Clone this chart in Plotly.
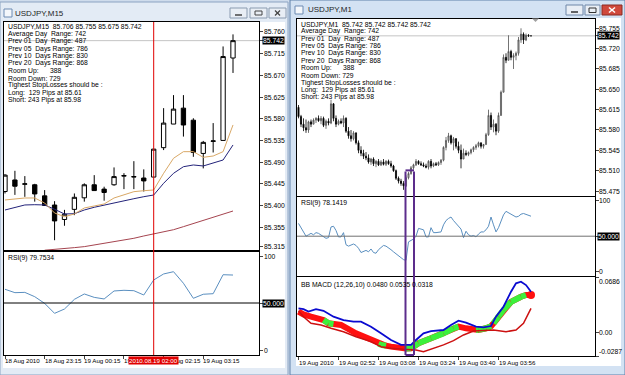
import plotly.graph_objects as go

W, H = 625, 375
FONT = "Liberation Sans, Arial, sans-serif"

# ---------------- Left chart: USDJPY M15 ----------------
m15_labels = ["18 Aug 2010", "18 Aug 23:15", "19 Aug 00:15", "19 Aug 01:15", "19 Aug 02:15", "19 Aug 03:15"]
m15_label_idx = [0, 4, 8, 12, 16, 20]
m15_open = [85.429, 85.453, 85.444, 85.443, 85.420, 85.401, 85.371, 85.392, 85.416, 85.443, 85.434, 85.443,
            85.461, 85.459, 85.457, 85.459, 85.520, 85.569, 85.602, 85.577, 85.508, 85.533, 85.535, 85.706]
m15_high = [85.465, 85.472, 85.461, 85.445, 85.432, 85.409, 85.391, 85.425, 85.446, 85.463, 85.439, 85.479,
            85.467, 85.492, 85.475, 85.517, 85.602, 85.629, 85.629, 85.581, 85.534, 85.571, 85.730, 85.755]
m15_low = [85.425, 85.422, 85.418, 85.408, 85.399, 85.328, 85.358, 85.380, 85.408, 85.431, 85.410, 85.441,
           85.434, 85.434, 85.429, 85.459, 85.515, 85.569, 85.543, 85.501, 85.477, 85.510, 85.535, 85.675]
m15_close = [85.463, 85.440, 85.445, 85.424, 85.400, 85.368, 85.382, 85.417, 85.443, 85.431, 85.427, 85.460,
             85.462, 85.460, 85.451, 85.517, 85.571, 85.600, 85.567, 85.510, 85.531, 85.534, 85.709, 85.742]
ma_fast = [85.4115, 85.4135, 85.4156, 85.4156, 85.4052, 85.3845, 85.3768, 85.3824, 85.3949, 85.3990, 85.4032,
           85.4156, 85.4218, 85.4287, 85.4307, 85.4322, 85.4668, 85.4980, 85.5117, 85.5117, 85.5000, 85.5027,
           85.5117, 85.5671]
ma_mid = [85.3907, 85.3963, 85.4011, 85.4017, 85.4011, 85.3922, 85.3824, 85.3830, 85.3907, 85.3963, 85.4011,
          85.4059, 85.4100, 85.4141, 85.4183, 85.4218, 85.4461, 85.4668, 85.4805, 85.4841, 85.4820, 85.4876,
          85.4944, 85.5256]
ma_slow = [None, None, None, None, 85.3073, 85.3088, 85.3098, 85.3126, 85.3147, 85.3182, 85.3209, 85.3244,
           85.3285, 85.3320, 85.3368, 85.3409, 85.3451, 85.3498, 85.3561, 85.3623, 85.3685, 85.3755, 85.3824,
           85.3886]
rsi_m15 = [64.6, 61, 61.3, 56.7, 49.6, 39, 43.6, 53.9, 59.6, 56, 54.3, 62.8, 63.5, 63.1, 58.5, 74.5, 80.9,
           83.3, 71, 55, 59.3, 59.9, 80.1, 79.75]
m15_price_ticks = [85.760, 85.715, 85.670, 85.625, 85.580, 85.535, 85.490, 85.445, 85.400, 85.355, 85.315]
m15_marker_idx = 15
m15_marker_text = "2010.08.19 02:00"
info_m15 = ["USDJPY,M15  85.706 85.755 85.675 85.742"]
rsi_m15_title = "RSI(9) 79.7534"

# ---------------- Right chart: USDJPY M1 ----------------
m1_labels = ["19 Aug 2010", "19 Aug 02:52", "19 Aug 03:08", "19 Aug 03:24", "19 Aug 03:40", "19 Aug 03:56"]
m1_label_idx = [0, 16, 32, 48, 64, 80]
m1_open = [85.619, 85.603, 85.590, 85.584, 85.580, 85.594, 85.590, 85.597, 85.600, 85.596, 85.600, 85.588,
           85.595, 85.592, 85.625, 85.600, 85.590, 85.595, 85.592, 85.600, 85.578, 85.570, 85.565, 85.575,
           85.558, 85.545, 85.540, 85.535, 85.532, 85.525, 85.530, 85.522, 85.526, 85.520, 85.525, 85.521,
           85.526, 85.522, 85.518, 85.510, 85.497, 85.492, 85.488, 85.484, 85.498, 85.505, 85.515, 85.520,
           85.526, 85.522, 85.520, 85.518, 85.516, 85.526, 85.518, 85.522, 85.520, 85.524, 85.528, 85.550,
           85.562, 85.570, 85.558, 85.565, 85.552, 85.545, 85.530, 85.540, 85.538, 85.541, 85.546, 85.550,
           85.553, 85.558, 85.552, 85.555, 85.572, 85.605, 85.585, 85.590, 85.578, 85.605, 85.645, 85.705,
           85.700, 85.715, 85.705, 85.708, 85.712, 85.735, 85.745, 85.735, 85.743, 85.742]
m1_high = [85.623, 85.606, 85.600, 85.598, 85.596, 85.598, 85.600, 85.602, 85.605, 85.604, 85.603, 85.598,
           85.600, 85.632, 85.626, 85.605, 85.598, 85.600, 85.605, 85.602, 85.585, 85.580, 85.578, 85.576,
           85.562, 85.552, 85.546, 85.542, 85.538, 85.532, 85.533, 85.528, 85.530, 85.528, 85.530, 85.528,
           85.529, 85.527, 85.520, 85.512, 85.500, 85.496, 85.492, 85.502, 85.508, 85.518, 85.522, 85.530,
           85.528, 85.526, 85.524, 85.522, 85.528, 85.530, 85.524, 85.525, 85.526, 85.530, 85.552, 85.568,
           85.575, 85.572, 85.568, 85.566, 85.560, 85.555, 85.548, 85.545, 85.543, 85.548, 85.552, 85.556,
           85.560, 85.558, 85.556, 85.575, 85.615, 85.610, 85.598, 85.592, 85.610, 85.648, 85.710, 85.712,
           85.743, 85.718, 85.712, 85.715, 85.740, 85.755, 85.748, 85.746, 85.745, 85.742]
m1_low = [85.600, 85.585, 85.578, 85.575, 85.575, 85.585, 85.590, 85.592, 85.594, 85.590, 85.585, 85.582,
          85.588, 85.590, 85.595, 85.585, 85.588, 85.590, 85.585, 85.575, 85.565, 85.560, 85.562, 85.555,
          85.540, 85.535, 85.530, 85.528, 85.522, 85.520, 85.518, 85.516, 85.518, 85.518, 85.519, 85.518,
          85.520, 85.515, 85.508, 85.494, 85.488, 85.484, 85.477, 85.482, 85.495, 85.503, 85.512, 85.518,
          85.520, 85.518, 85.516, 85.514, 85.512, 85.514, 85.516, 85.518, 85.518, 85.520, 85.526, 85.545,
          85.558, 85.555, 85.545, 85.548, 85.540, 85.514, 85.530, 85.535, 85.535, 85.538, 85.542, 85.546,
          85.550, 85.548, 85.548, 85.555, 85.570, 85.580, 85.576, 85.571, 85.575, 85.605, 85.645, 85.695,
          85.700, 85.700, 85.685, 85.700, 85.708, 85.730, 85.728, 85.733, 85.740, 85.742]
m1_close = [85.603, 85.590, 85.584, 85.580, 85.594, 85.590, 85.597, 85.600, 85.596, 85.600, 85.588, 85.595,
            85.592, 85.625, 85.600, 85.590, 85.595, 85.592, 85.600, 85.578, 85.570, 85.565, 85.575, 85.558,
            85.545, 85.540, 85.535, 85.532, 85.525, 85.530, 85.522, 85.526, 85.520, 85.525, 85.521, 85.526,
            85.522, 85.518, 85.510, 85.497, 85.492, 85.488, 85.484, 85.498, 85.505, 85.515, 85.520, 85.526,
            85.522, 85.520, 85.518, 85.516, 85.526, 85.518, 85.522, 85.520, 85.524, 85.528, 85.550, 85.562,
            85.570, 85.558, 85.565, 85.552, 85.545, 85.530, 85.540, 85.538, 85.541, 85.546, 85.550, 85.553,
            85.558, 85.552, 85.555, 85.572, 85.605, 85.585, 85.590, 85.578, 85.605, 85.645, 85.705, 85.700,
            85.715, 85.705, 85.708, 85.712, 85.735, 85.745, 85.735, 85.743, 85.742, 85.742]
rsi_m1 = [68, 62, 56, 50, 52, 54, 52, 55, 54, 52, 50, 47, 48, 63, 64, 58, 49, 49, 55, 38,
          36, 37, 39, 37, 33, 27, 29, 30, 28, 32, 27, 26, 31, 34, 37, 36, 34, 31, 28, 25,
          22, 19, 17, 16, 42, 44, 46, 50, 61, 60, 59, 49, 49, 62, 55, 55, 56, 56, 66, 72,
          75, 77, 72, 68, 65, 60, 48, 57, 52, 50, 51, 49, 53, 56, 56, 59, 64, 77, 66, 56,
          62, 70, 80, 85, 83, 81, 78, 77, 78, 81, 82, 81, 80, 78.14]
rsi_m1_title = "RSI(9) 78.1419"
macd_idx = [0, 2, 4, 7, 10, 14, 18, 22, 25, 29, 33, 37, 41, 45, 47, 50, 53, 58, 61, 64, 67, 71, 74, 77, 79,
            82, 85, 87, 89, 91, 93]
macd_val = [0.030, 0.029, 0.026, 0.029, 0.027, 0.0197, 0.0156, 0.0136, 0.0136, 0.0074, -0.0008, -0.009,
            -0.015, -0.015, -0.009, -0.0008, 0.002, 0.0033, 0.0095, 0.0148, 0.0123, 0.0074, 0.0066, 0.0082,
            0.0197, 0.032, 0.0505, 0.0608, 0.0628, 0.0587, 0.0505]
lower_idx = [0, 2, 5, 9, 13, 18, 23, 29, 33, 37, 42, 47, 50, 54, 58, 62, 66, 70, 74, 78, 83, 87, 90, 92, 93]
lower_val = [0.027, 0.0197, 0.0116, 0.0095, 0.0054, 0.0012, -0.0049, -0.011, -0.0172, -0.0192, -0.0205,
             -0.0213, -0.0234, -0.0192, -0.015, -0.0098, -0.0028, 0.002, 0.0025, 0.0033, 0.0012, 0.0033,
             0.0116, 0.0239, 0.030]
sig_idx = [0, 2, 5, 10, 12, 14, 17, 23, 29, 32, 33, 35, 37, 41, 43, 45, 48, 53, 58, 62, 64, 67, 71, 72, 75,
           77, 78, 80, 82, 85, 89, 91, 93]
sig_val = [0.026, 0.0225, 0.0197, 0.0156, 0.0116, 0.0105, 0.0095, -0.0008, -0.009, -0.0135, -0.015, -0.016,
           -0.0172, -0.0192, -0.0195, -0.0192, -0.013, -0.0069, -0.0008, 0.0054, 0.0074, 0.0054, 0.0033,
           0.0035, 0.0054, 0.0080, 0.0116, 0.020, 0.028, 0.038, 0.0443, 0.0464, 0.0464]
sig_col = ["r", "r", "r", "r", "g", "g", "r", "r", "r", "r", "g", "g", "r", "r", "r", "g", "g", "g", "g",
           "g", "g", "r", "r", "g", "g", "g", "r", "g", "g", "g", "g", "g", "r"]
macd_title = "BB MACD (12,26,10) 0.0480 0.0535 0.0318"
macd_ticks = [0.0686, 0.0, -0.0287]
macd_tick_text = ["0.0686", "0.00", "-0.0287"]
m1_price_ticks = [85.755, 85.720, 85.685, 85.650, 85.615, 85.580, 85.545, 85.510, 85.475]
bid = 85.742
box_idx = [42.8, 46.2]
box_top_price = 85.5105
info_m1 = ["USDJPY,M1  85.742 85.742 85.742 85.742"]
info_common = ["Average Day\u00a0\u00a0Range: 742", "Prev 01\u00a0\u00a0Day\u00a0\u00a0Range: 487",
               "Prev 05\u00a0\u00a0Days Range: 786", "Prev 10\u00a0\u00a0Days Range: 830",
               "Prev 20\u00a0\u00a0Days Range: 868", "Room Up:\u00a0\u00a0\u00a0\u00a0\u00a0\u00a0388",
               "Room Down: 729", "Tighest StopLosses should be :", "Long:\u00a0\u00a0129 Pips at 85.61",
               "Short: 243 Pips at 85.98"]

TS = 6.8   # chart text size
TL = 6.2   # time label size


def px(x):
    return x / W


def py(y):
    return 1 - y / H


fig = go.Figure()
m15_x = list(range(len(m15_close)))
m1_x = list(range(len(m1_close)))

fig.add_trace(go.Candlestick(x=m15_x, open=m15_open, high=m15_high, low=m15_low, close=m15_close,
                             xaxis="x", yaxis="y", whiskerwidth=0,
                             increasing=dict(fillcolor="white", line=dict(color="black", width=1)),
                             decreasing=dict(fillcolor="black", line=dict(color="black", width=1))))
fig.add_trace(go.Scatter(x=m15_x, y=ma_slow, xaxis="x", yaxis="y", mode="lines",
                         line=dict(color="#a5444f", width=1)))
fig.add_trace(go.Scatter(x=m15_x, y=ma_mid, xaxis="x", yaxis="y", mode="lines",
                         line=dict(color="#23237a", width=1)))
fig.add_trace(go.Scatter(x=m15_x, y=ma_fast, xaxis="x", yaxis="y", mode="lines",
                         line=dict(color="#d9a866", width=1)))
fig.add_trace(go.Scatter(x=m15_x, y=rsi_m15, xaxis="x2", yaxis="y2", mode="lines",
                         line=dict(color="#5a8fc0", width=1)))

fig.add_trace(go.Candlestick(x=m1_x, open=m1_open, high=m1_high, low=m1_low, close=m1_close,
                             xaxis="x3", yaxis="y3", whiskerwidth=0,
                             increasing=dict(fillcolor="#b0b0b0", line=dict(color="#505050", width=0.8)),
                             decreasing=dict(fillcolor="black", line=dict(color="black", width=0.8))))
fig.add_trace(go.Scatter(x=m1_x, y=rsi_m1, xaxis="x4", yaxis="y4", mode="lines",
                         line=dict(color="#5a8fc0", width=1)))

# thick coloured signal
fig.add_trace(go.Scatter(x=sig_idx, y=sig_val, xaxis="x5", yaxis="y5", mode="lines",
                         line=dict(color="#ff1010", width=6)))
gx, gy = [], []
for j in range(1, len(sig_idx)):
    if sig_col[j] == "g":
        gx += [sig_idx[j - 1], sig_idx[j], None]
        gy += [sig_val[j - 1], sig_val[j], None]
fig.add_trace(go.Scatter(x=gx, y=gy, xaxis="x5", yaxis="y5", mode="lines",
                         line=dict(color="#3cf03c", width=6)))
fig.add_trace(go.Scatter(x=[sig_idx[-1]], y=[sig_val[-1]], xaxis="x5", yaxis="y5", mode="markers",
                         marker=dict(color="#ff1010", size=8)))
fig.add_trace(go.Scatter(x=lower_idx, y=lower_val, xaxis="x5", yaxis="y5", mode="lines",
                         line=dict(color="#cc1010", width=1.5)))
fig.add_trace(go.Scatter(x=macd_idx, y=macd_val, xaxis="x5", yaxis="y5", mode="lines",
                         line=dict(color="#0a0ad0", width=1.8)))

ax = dict(showgrid=False, zeroline=False, showline=True, mirror=True, linecolor="black", linewidth=1,
          fixedrange=True)
xl = dict(range=[(4 - 5) / 9.913, (259 - 5) / 9.913], domain=[px(4), px(259)])
xr = dict(range=[(297 - 298.5) / 2.5, (595 - 298.5) / 2.5], domain=[px(297), px(595)])

shapes, ann = [], []


def rect(x0, y0, x1, y1, fill, line=None, lw=1, layer="below"):
    shapes.append(dict(type="rect", xref="paper", yref="paper", x0=px(x0), x1=px(x1), y0=py(y0), y1=py(y1),
                       fillcolor=fill, line=dict(color=line or fill, width=lw if line else 0), layer=layer))


def pline(x0, y0, x1, y1, color, w=1, layer="above"):
    shapes.append(dict(type="line", xref="paper", yref="paper", x0=px(x0), x1=px(x1), y0=py(y0), y1=py(y1),
                       line=dict(color=color, width=w), layer=layer))


def text(x, y, s, size=TS, color="black", xanchor="left", bg=None, xref="paper", yref="paper",
         yanchor="middle"):
    ann.append(dict(text=s, x=x, y=y, xref=xref, yref=yref, xanchor=xanchor, yanchor=yanchor,
                    showarrow=False, font=dict(family=FONT, size=size, color=color),
                    bgcolor=bg, borderpad=0))


# window chrome
rect(0, 0, 625, 375, "#cfdcec")
rect(0, 2, 288, 375, "#e3ebf5", "#8ba3c2")
rect(290, 0, 625, 375, "#d3e2f3", "#5f80aa")
rect(3, 22, 285, 368, "white")
rect(296, 18, 621, 366, "white")
# title icons and text
rect(4, 9, 12, 17, "#f4f7fb", "#6c8bb3")
rect(295, 6, 303, 14, "#f4f7fb", "#6c8bb3")
text(px(14), py(13.5), "USDJPY,M15", size=8, color="#1e1e1e")
text(px(307), py(10), "USDJPY,M1", size=8, color="#1e1e1e")
# window buttons
for (x0, x1) in [(230, 247), (250, 267), (269, 286)]:
    rect(x0, 8, x1, 18, "#e9eef5", "#8a9bb0", layer="above")
for (x0, x1) in [(566, 583), (585, 600)]:
    rect(x0, 5, x1, 15, "#e9eef5", "#6f87a8", layer="above")
rect(602, 5, 622, 15, "#d0493c", "#8a2a22", layer="above")
pline(235, 15, 242, 15, "#444", 1.5)
rect(255, 11, 262, 15, "rgba(0,0,0,0)", "#444", layer="above")
pline(275, 10.5, 280, 15.5, "#444", 1.2)
pline(275, 15.5, 280, 10.5, "#444", 1.2)
pline(571, 12, 578, 12, "#333", 1.5)
rect(589, 8, 596, 12.5, "rgba(0,0,0,0)", "#333", layer="above")
pline(609, 7.5, 615, 12.5, "white", 1.5)
pline(609, 12.5, 615, 7.5, "white", 1.5)
# chart-shift triangle (right)
shapes.append(dict(type="path", xref="paper", yref="paper",
                   path=f"M {px(532)} {py(18.5)} L {px(539)} {py(18.5)} L {px(535.5)} {py(22)} Z",
                   fillcolor="#a0a0a0", line=dict(width=0)))

# bid lines
shapes.append(dict(type="line", xref="paper", yref="y", x0=px(4), x1=px(259), y0=bid, y1=bid,
                   line=dict(color="#c4c4c4", width=1), layer="below"))
shapes.append(dict(type="line", xref="paper", yref="y3", x0=px(297), x1=px(595), y0=bid, y1=bid,
                   line=dict(color="#c4c4c4", width=1), layer="below"))
# RSI 50 levels
shapes.append(dict(type="line", xref="paper", yref="y2", x0=px(4), x1=px(259), y0=50, y1=50,
                   line=dict(color="black", width=1)))
shapes.append(dict(type="line", xref="paper", yref="y4", x0=px(297), x1=px(595), y0=50, y1=50,
                   line=dict(color="#707070", width=1)))
# red time marker
shapes.append(dict(type="line", xref="x", yref="paper", x0=m15_marker_idx, x1=m15_marker_idx,
                   y0=py(355), y1=py(22), line=dict(color="#e00000", width=1)))
# purple box
for bx in box_idx:
    shapes.append(dict(type="line", xref="x3", yref="paper", x0=bx, x1=bx, y0=py(355),
                       y1=py(171.5), line=dict(color="#5c2d8c", width=2)))
shapes.append(dict(type="line", xref="x3", yref="y3", x0=box_idx[0], x1=box_idx[1], y0=box_top_price,
                   y1=box_top_price, line=dict(color="#5c2d8c", width=2)))
shapes.append(dict(type="line", xref="x3", yref="paper", x0=box_idx[0], x1=box_idx[1], y0=py(355),
                   y1=py(355), line=dict(color="#5c2d8c", width=2)))

# info text blocks
for j, s in enumerate(info_m15 + info_common):
    text(px(7), py(26.7 + 7.33 * j), s)
for j, s in enumerate(info_m1 + info_common):
    text(px(300), py(24 + 7.33 * j), s)

# price labels
for p in m15_price_ticks:
    text(px(263), p, f"{p:.3f}", yref="y")
text(px(262), bid, f"{bid:.3f}", yref="y", color="white", bg="black")
for p in m1_price_ticks:
    text(px(598), p, f"{p:.3f}", yref="y3")
text(px(597), bid, f"{bid:.3f}", yref="y3", color="white", bg="black")
# RSI / MACD labels
text(px(7), py(258), rsi_m15_title)
text(px(263), 100, "100", yref="y2")
text(px(262), 50, "50.000", yref="y2", color="white", bg="black")
text(px(263), 0, "0", yref="y2")
text(px(300), py(203), rsi_m1_title)
text(px(598), 100, "100", yref="y4")
text(px(597), 50, "50.000", yref="y4", color="white", bg="black")
text(px(598), 0, "0", yref="y4")
text(px(300), py(285), macd_title)
for v, s, anc in zip(macd_ticks, macd_tick_text, ["top", "middle", "bottom"]):
    text(px(598), v, s, yref="y5", yanchor=anc)

# time labels
for i, s in zip(m15_label_idx, m15_labels):
    text(i - 0.1, py(360), s, size=TL, xref="x2")
text(m15_marker_idx, py(360), m15_marker_text, size=TL, xref="x2", xanchor="center", color="white",
     bg="#e00000")
for i, s in zip(m1_label_idx, m1_labels):
    text(i - 0.4, py(362), s, size=TL, xref="x5")

fig.update_layout(
    width=W, height=H, margin=dict(l=0, r=0, t=0, b=0), autosize=False,
    paper_bgcolor="#cfdcec", plot_bgcolor="rgba(0,0,0,0)", showlegend=False, boxgap=0.38,
    xaxis=dict(**ax, **xl, anchor="y", showticklabels=False, rangeslider=dict(visible=False)),
    yaxis=dict(**ax, domain=[py(250), py(22)], range=[85.3077, 85.7807], anchor="x", side="right",
               ticks="outside", ticklen=3, tickvals=m15_price_ticks + [bid], showticklabels=False),
    xaxis2=dict(**ax, **xl, anchor="y2", matches="x", ticks="outside", ticklen=3, tickvals=m15_label_idx,
                showticklabels=False),
    yaxis2=dict(**ax, domain=[py(355), py(252)], range=[-5.32, 104.26], anchor="x2", side="right",
                ticks="outside", ticklen=3, tickvals=[0, 50, 100], showticklabels=False),
    xaxis3=dict(**ax, **xr, anchor="y3", showticklabels=False, rangeslider=dict(visible=False)),
    yaxis3=dict(**ax, domain=[py(196), py(19)], range=[85.4664, 85.771], anchor="x3", side="right",
                ticks="outside", ticklen=3, tickvals=m1_price_ticks + [bid], showticklabels=False),
    xaxis4=dict(**ax, **xr, anchor="y4", matches="x3", showticklabels=False),
    yaxis4=dict(**ax, domain=[py(276), py(197)], range=[-6.06, 105.2], anchor="x4", side="right",
                ticks="outside", ticklen=3, tickvals=[0, 50, 100], showticklabels=False),
    xaxis5=dict(**ax, **xr, anchor="y5", matches="x3", ticks="outside", ticklen=3, tickvals=m1_label_idx,
                showticklabels=False),
    yaxis5=dict(**ax, domain=[py(356), py(277)], range=[-0.0287, 0.0686], anchor="x5", side="right",
                ticks="outside", ticklen=3, tickvals=macd_ticks, showticklabels=False),
    shapes=shapes, annotations=ann,
)

fig.write_html("out.html", config={"displayModeBar": False})
